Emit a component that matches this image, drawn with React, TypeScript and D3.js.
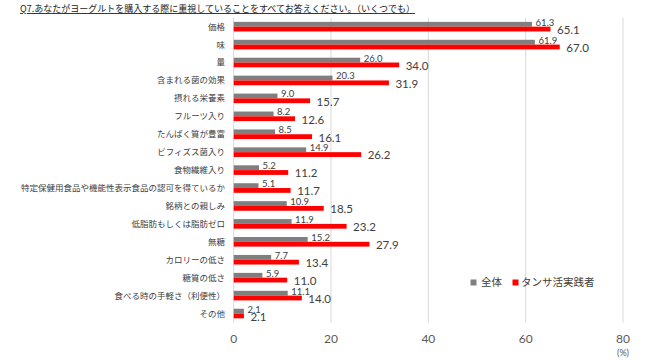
import React from "react";
import * as d3 from "d3";

const categories = [
  "価格",
  "味",
  "量",
  "含まれる菌の効果",
  "摂れる栄養素",
  "フルーツ入り",
  "たんぱく質が豊富",
  "ビフィズス菌入り",
  "食物繊維入り",
  "特定保健用食品や機能性表示食品の認可を得ているか",
  "銘柄との親しみ",
  "低脂肪もしくは脂肪ゼロ",
  "無糖",
  "カロリーの低さ",
  "糖質の低さ",
  "食べる時の手軽さ（利便性）",
  "その他",
];
const allValues = [61.3, 61.9, 26.0, 20.3, 9.0, 8.2, 8.5, 14.9, 5.2, 5.1, 10.9, 11.9, 15.2, 7.7, 5.9, 11.1, 2.1];
const tansaValues = [65.1, 67.0, 34.0, 31.9, 15.7, 12.6, 16.1, 26.2, 11.2, 11.7, 18.5, 23.2, 27.9, 13.4, 11.0, 14.0, 2.1];
const seriesNames = ["全体", "タンサ活実践者"];
const xTicks = [0, 20, 40, 60, 80];
const title = "Q7.あなたがヨーグルトを購入する際に重視していることをすべてお答えください。（いくつでも）";

const W = 650;
const H = 360;
const JP = "'Noto Sans CJK JP', 'Noto Sans', sans-serif";
const NUM = "Lato, 'Noto Sans', sans-serif";
const GRAY = "#7f7f7f";
const RED = "#ff0000";
const TEXT = "#404040";

export default function App() {
  const x = d3.scaleLinear().domain([0, 80]).range([233.7, 623]);
  const y = d3
    .scaleBand<string>()
    .domain(categories)
    .range([17.7, 322.5])
    .paddingInner(0.465)
    .paddingOuter(0.2325);
  const sub = d3.scaleBand<string>().domain(seriesNames).range([0, y.bandwidth()]);

  const series = [
    { name: seriesNames[0], values: allValues, color: GRAY },
    { name: seriesNames[1], values: tansaValues, color: RED },
  ];

  return (
    <svg
      width={W}
      height={H}
      style={{ position: "absolute", left: 0, top: 0, background: "#fff" }}
    >
      <rect width={W} height={H} fill="#fff" />
      <text
        x={20}
        y={12}
        fontFamily={JP}
        fontSize={9}
        fill="#222"
        textDecoration="underline"
      >
        {title}
      </text>
      {xTicks.map((t) => (
        <g key={t}>
          <line
            x1={x(t)}
            x2={x(t)}
            y1={17.7}
            y2={322.5}
            stroke="#d9d9d9"
            strokeWidth={1}
          />
          <text
            x={x(t)}
            y={343}
            textAnchor="middle"
            fontFamily={NUM}
            fontSize={12}
            fill="#595959"
          >
            {t}
          </text>
        </g>
      ))}
      <text x={623} y={356} textAnchor="middle" fontFamily={NUM} fontSize={9} fill="#595959">
        (%)
      </text>
      {categories.map((c) => (
        <text
          key={c}
          x={225}
          y={(y(c) ?? 0) + y.bandwidth() / 2}
          dy="0.35em"
          textAnchor="end"
          fontFamily={JP}
          fontSize={8.5}
          fill={TEXT}
        >
          {c}
        </text>
      ))}
      {series.map((s, si) => (
        <g key={s.name}>
          {s.values.map((v, i) => {
            const c = categories[i];
            const by = (y(c) ?? 0) + (sub(s.name) ?? 0);
            return (
              <rect
                key={c}
                x={x(0)}
                y={by}
                width={x(v) - x(0)}
                height={sub.bandwidth()}
                fill={s.color}
              />
            );
          })}
          {s.values.map((v, i) => {
            const c = categories[i];
            const by = (y(c) ?? 0) + (sub(s.name) ?? 0);
            return si === 0 ? (
              <text
                key={c}
                x={x(v) + 3.5}
                y={by + sub.bandwidth() - 1}
                fontFamily={NUM}
                fontSize={9.5}
                fill={TEXT}
              >
                {v.toFixed(1)}
              </text>
            ) : (
              <text
                key={c}
                x={x(v) + 6.5}
                y={by + sub.bandwidth() + 2.5}
                fontFamily={NUM}
                fontSize={11.5}
                fill={TEXT}
              >
                {v.toFixed(1)}
              </text>
            );
          })}
        </g>
      ))}
      <g>
        <rect x={470.5} y={279.5} width={6} height={6} fill={GRAY} />
        <text x={481} y={282.5} dy="0.35em" fontFamily={JP} fontSize={10.5} fill={TEXT}>
          {seriesNames[0]}
        </text>
        <rect x={512.5} y={279.5} width={6} height={6} fill={RED} />
        <text x={521} y={282.5} dy="0.35em" fontFamily={JP} fontSize={10.5} fill={TEXT}>
          {seriesNames[1]}
        </text>
      </g>
    </svg>
  );
}
